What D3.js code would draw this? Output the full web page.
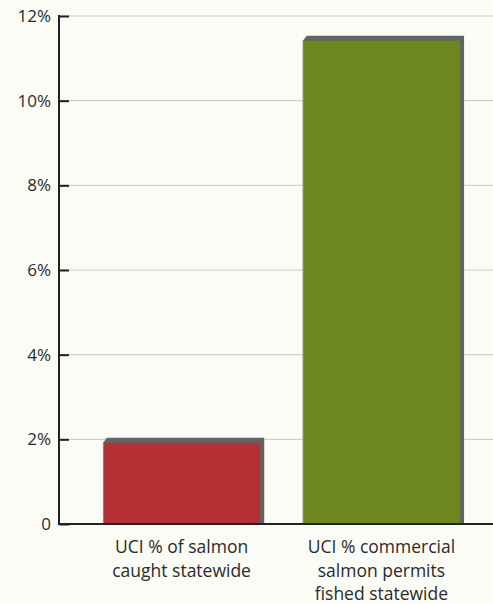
<!DOCTYPE html>
<html><head><meta charset="utf-8">
<script src="https://cdn.jsdelivr.net/npm/d3@7"></script>
<style>html,body{margin:0;padding:0;background:#fbfcf6;}svg{display:block;}</style>
</head><body>
<svg id="c" width="493" height="604"></svg>
<script>
const categories = [["UCI % of salmon","caught statewide"],["UCI % commercial","salmon permits","fished statewide"]];
const values = [2, 11.5];
const colors = ["#b33035", "#6d861e"];
const yTicks = [0, 2, 4, 6, 8, 10, 12];

const svg = d3.select("#c");
const font = "'Open Sans', sans-serif";
const y = d3.scaleLinear().domain([0, 12]).range([524, 16]);
const x = d3.scaleBand().domain(d3.range(values.length)).range([59, 504]).paddingInner(0.213).paddingOuter(0.22);

// gridlines
svg.append("g").selectAll("line").data(yTicks.filter(d => d > 0)).join("line")
  .attr("x1", 59).attr("x2", 493).attr("y1", d => y(d)).attr("y2", d => y(d))
  .attr("stroke", "#c8c8c8").attr("stroke-width", 1);

// bars
const bars = svg.append("g").selectAll("g").data(values).join("g");
bars.append("polygon").attr("fill", "#636363").attr("points", (d, i) => {
  const x0 = x(i), x1 = x(i) + x.bandwidth(), t = y(d) - 1.5, b = y(0);
  return [[x0, t + 5], [x0 + 4, t], [x1 + 4, t], [x1 + 4, b], [x1, b]].map(p => p.join(",")).join(" ");
});
bars.append("rect")
  .attr("x", (d, i) => x(i)).attr("width", x.bandwidth())
  .attr("y", d => y(d) + 3.5).attr("height", d => y(0) - y(d) - 3.5)
  .attr("fill", (d, i) => colors[i]);
bars.append("line")
  .attr("x1", (d, i) => x(i) + 0.5).attr("x2", (d, i) => x(i) + 0.5)
  .attr("y1", d => y(d) + 3.5).attr("y2", y(0))
  .attr("stroke", "#8a8a8a").attr("stroke-width", 1);

// y axis
const axis = d3.axisRight(y).tickValues(yTicks).tickSize(10).tickFormat(() => "");
const ag = svg.append("g").attr("transform", "translate(59,0)").call(axis);
ag.select(".domain").remove();
ag.selectAll(".tick line").attr("stroke", "#222").attr("stroke-width", 2);
svg.append("line").attr("x1", 59).attr("x2", 59).attr("y1", y(12) - 1).attr("y2", y(0) + 1)
  .attr("stroke", "#222").attr("stroke-width", 2);
svg.append("line").attr("x1", 58).attr("x2", 493).attr("y1", y(0)).attr("y2", y(0))
  .attr("stroke", "#222").attr("stroke-width", 2);

// tick labels
svg.append("g").selectAll("text").data(yTicks).join("text")
  .attr("x", 51).attr("y", d => y(d)).attr("dy", "0.36em")
  .attr("text-anchor", "end").attr("font-family", font).attr("font-size", 17).attr("fill", "#2a2a2a")
  .text(d => d === 0 ? "0" : d + "%");

// category labels
const cl = svg.append("g").selectAll("text").data(categories).join("text")
  .attr("text-anchor", "middle").attr("font-family", font).attr("font-size", 17.5).attr("fill", "#2a2a2a")
  .attr("x", (d, i) => x(i) + x.bandwidth() / 2);
cl.selectAll("tspan").data((d, i) => d.map(s => ({ s, i }))).join("tspan")
  .attr("x", d => x(d.i) + x.bandwidth() / 2)
  .attr("y", (d, j) => 553 + j * 23.5)
  .text(d => d.s);
</script>
</body></html>
